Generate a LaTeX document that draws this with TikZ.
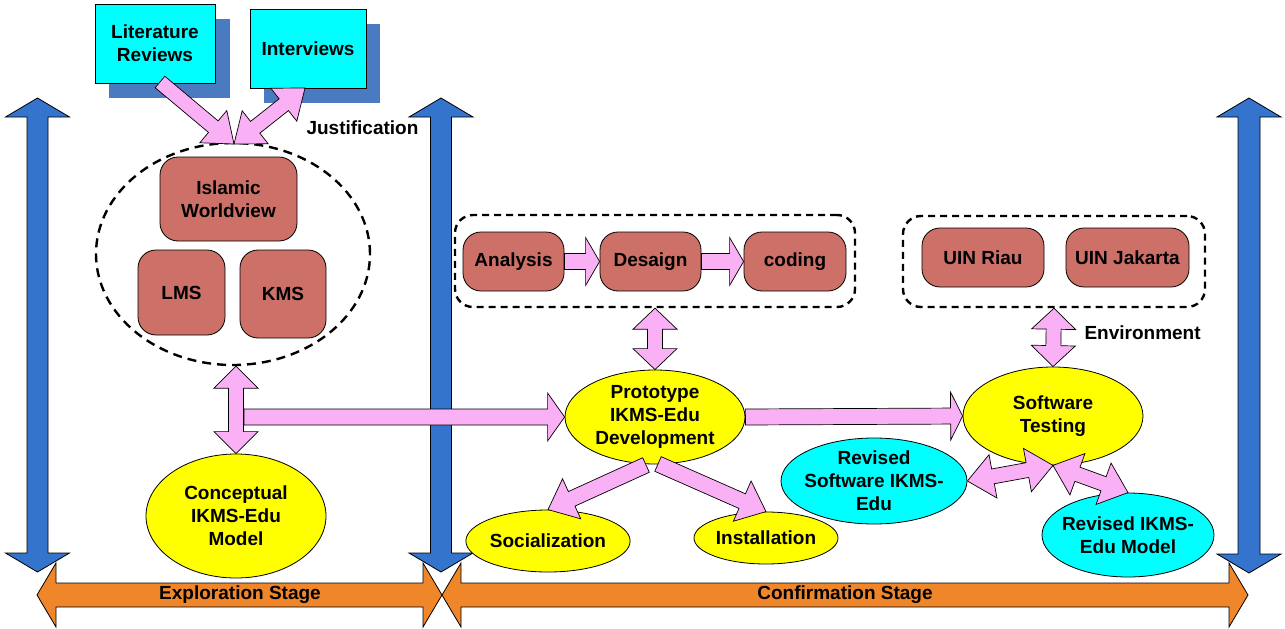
\documentclass[tikz,border=0pt]{standalone}
\usepackage{fontspec}
\setmainfont{Liberation Sans}
\usetikzlibrary{shapes.geometric,calc}
\definecolor{bluec}{RGB}{52,116,204}
\definecolor{shadowc}{RGB}{74,122,192}
\definecolor{orangec}{RGB}{240,134,42}
\definecolor{pinkc}{RGB}{250,176,245}
\definecolor{brownc}{RGB}{204,112,104}
\definecolor{cyanc}{RGB}{0,255,255}
\definecolor{yellowc}{RGB}{255,255,0}
\newcommand{\onearrow}[6]{%
 \coordinate (aA) at (#2);
 \coordinate (aB) at (#3);
 \coordinate (aC) at ($(aB)!#6!(aA)$);
 \path[#1] ($(aA)!#4!90:(aB)$) -- ($(aC)!#4!90:(aB)$) -- ($(aC)!#5!90:(aB)$) -- (aB)
   -- ($(aC)!#5!-90:(aB)$) -- ($(aC)!#4!-90:(aB)$) -- ($(aA)!#4!-90:(aB)$) -- cycle;}
\newcommand{\twoarrow}[6]{%
 \coordinate (aA) at (#2);
 \coordinate (aB) at (#3);
 \coordinate (aC) at ($(aB)!#6!(aA)$);
 \coordinate (aD) at ($(aA)!#6!(aB)$);
 \path[#1] (aA) -- ($(aD)!#5!90:(aB)$) -- ($(aD)!#4!90:(aB)$) -- ($(aC)!#4!90:(aB)$) -- ($(aC)!#5!90:(aB)$) -- (aB)
   -- ($(aC)!#5!-90:(aB)$) -- ($(aC)!#4!-90:(aB)$) -- ($(aD)!#4!-90:(aB)$) -- ($(aD)!#5!-90:(aB)$) -- cycle;}
\tikzset{
 txt/.style={font=\bfseries\fontsize{19}{23}\selectfont, align=center},
 base/.style={txt, draw=black, line width=0.8pt, inner sep=0pt},
 cbox/.style={base, fill=cyanc, rectangle},
 rbox/.style={base, fill=brownc, rounded corners=18pt},
 yell/.style={base, ellipse, fill=yellowc},
 cell/.style={base, ellipse, fill=cyanc, inner sep=-6pt},
 dashbox/.style={draw=black, line width=2.4pt, dash pattern=on 7pt off 5pt, rounded corners=18pt, inner sep=0pt},
 pinkarr/.style={fill=pinkc, draw=black, line width=0.7pt},
 bluearr/.style={fill=bluec, draw=black, line width=0.8pt},
 orangearr/.style={fill=orangec, draw=black, line width=0.8pt},
}
\begin{document}
\begin{tikzpicture}[x=1pt,y=-1pt]
\useasboundingbox (0,0) rectangle (1285,629);
% blue vertical arrows
\coordinate (b1t) at (37.5,98); \coordinate (b1b) at (37.5,572);
\coordinate (b2t) at (441,98); \coordinate (b2b) at (441,572);
\coordinate (b3t) at (1249,98); \coordinate (b3b) at (1249,573);
\twoarrow{bluearr}{b1t}{b1b}{10.5pt}{32pt}{19pt}
\twoarrow{bluearr}{b2t}{b2b}{10.5pt}{32pt}{19pt}
\twoarrow{bluearr}{b3t}{b3b}{11pt}{32pt}{19pt}
% orange stage arrows
\coordinate (o1) at (37,595); \coordinate (o2) at (442,595); \coordinate (o3) at (1248,595);
\twoarrow{orangearr}{o1}{o2}{12pt}{32pt}{19pt}
\twoarrow{orangearr}{o2}{o3}{12pt}{32pt}{19pt}
\node[txt] (expl) at (240,595) {Exploration Stage};
\node[txt] (conf) at (845,595) {Confirmation Stage};
% top boxes with shadows
\fill[shadowc] (109,19) rectangle (230,98);
\fill[shadowc] (264,24) rectangle (380,103);
\node[cbox, minimum width=120pt, minimum height=79pt] (lit) at (155,43.5) {Literature\\Reviews};
\node[cbox, minimum width=116pt, minimum height=79pt] (intv) at (308,48.5) {Interviews};
% dashed ellipse group
\node[draw=black, line width=2.4pt, dash pattern=on 9pt off 6pt, ellipse, minimum width=274pt, minimum height=222pt, inner sep=0pt] (ell) at (233,254) {};
\node[rbox, minimum width=137pt, minimum height=84pt] (isl) at (228.5,199) {Islamic\\Worldview};
\node[rbox, minimum width=87pt, minimum height=85pt] (lms) at (181.5,292.5) {LMS};
\node[rbox, minimum width=86pt, minimum height=88pt] (kms) at (283,294) {KMS};
\node[txt, anchor=west] (just) at (303,128) {Justification};
% arrows to ellipse
\coordinate (jn) at (234,144);
\coordinate (litout) at (160,82);
\coordinate (intin) at (305,88);
\onearrow{pinkarr}{litout}{jn}{7.5pt}{21pt}{27pt}
\twoarrow{pinkarr}{jn}{intin}{7.5pt}{21pt}{27pt}
% conceptual model
\node[yell, minimum width=180pt, minimum height=124pt] (concept) at (236,516) {Conceptual\\IKMS-Edu\\Model};
\twoarrow{pinkarr}{concept.north |- ell.south}{concept.north}{7.5pt}{22pt}{22pt}
% development group
\node[dashbox, minimum width=400pt, minimum height=92pt] (dev) at (655,261) {};
\node[rbox, minimum width=101pt, minimum height=59pt] (ana) at (513.5,261.5) {Analysis};
\node[rbox, minimum width=101pt, minimum height=59pt] (des) at (650.5,261.5) {Desaign};
\node[rbox, minimum width=102pt, minimum height=59pt] (cod) at (795,261.5) {coding};
\onearrow{pinkarr}{ana.east}{des.west}{8pt}{24pt}{14pt}
\onearrow{pinkarr}{des.east}{cod.west}{8pt}{24pt}{14pt}
% prototype
\node[yell, minimum width=180pt, minimum height=94pt] (proto) at (655,417) {Prototype\\IKMS-Edu\\Development};
\twoarrow{pinkarr}{dev.south}{proto.north}{7.5pt}{22pt}{21pt}
\coordinate (hstart) at (244,417);
\onearrow{pinkarr}{hstart}{proto.west}{8pt}{24pt}{17pt}
% socialization / installation
\node[yell, minimum width=162pt, minimum height=62pt] (soc) at (548,541) {Socialization};
\node[yell, minimum width=144pt, minimum height=52pt] (inst) at (766,538) {Installation};
\coordinate (ps1) at (646,465);
\coordinate (ps2) at (658,464);
\onearrow{pinkarr}{ps1}{soc.north}{8pt}{22pt}{26pt}
\onearrow{pinkarr}{ps2}{inst.north}{8pt}{22pt}{26pt}
% UIN group
\node[dashbox, minimum width=302pt, minimum height=91pt] (uin) at (1054,261.5) {};
\node[rbox, minimum width=122pt, minimum height=59pt] (riau) at (983,257.5) {UIN Riau};
\node[rbox, minimum width=123pt, minimum height=59pt] (jak) at (1127.5,257.5) {UIN Jakarta};
% software testing
\node[yell, minimum width=180pt, minimum height=98pt] (test) at (1053,416) {Software\\Testing};
\twoarrow{pinkarr}{uin.south}{test.north}{7.5pt}{22pt}{21pt}
\node[txt, anchor=west] (env) at (1081,333) {Environment};
\onearrow{pinkarr}{proto.east}{test.west}{8pt}{24pt}{12pt}
% revised
\node[cell, minimum width=186pt, minimum height=86pt] (revsw) at (874,481) {Revised\\Software IKMS-\\Edu};
\node[cell, minimum width=172pt, minimum height=84pt] (revmod) at (1128,535) {Revised IKMS-\\Edu Model};
\twoarrow{pinkarr}{revsw.east}{test.south}{7.5pt}{22pt}{26pt}
\twoarrow{pinkarr}{test.south}{revmod.north}{7.5pt}{22pt}{26pt}
\end{tikzpicture}
\end{document}
